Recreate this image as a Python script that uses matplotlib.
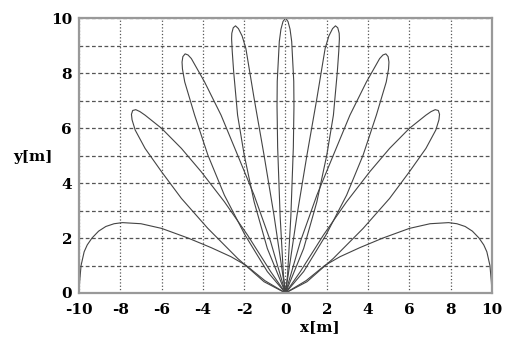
import matplotlib
matplotlib.use("Agg")
import matplotlib.pyplot as plt
import numpy as np

# lobe outlines (right half, mirrored for the left)
lobe90_x = [0, 0.1, 0.26, 0.38, 0.41, 0.4, 0.3, 0.22, 0.12, 0, -0.12, -0.22, -0.3, -0.4, -0.41, -0.38, -0.26, -0.1, 0]
lobe90_y = [0, 0.65, 2.8, 5.3, 6.8, 7.7, 9.15, 9.6, 9.88, 10, 9.88, 9.6, 9.15, 7.7, 6.8, 5.3, 2.8, 0.65, 0]

lobe75_x = [0, 0.56, 1.04, 1.52, 1.92, 2.1, 2.28, 2.42, 2.53, 2.6, 2.61, 2.58, 2.51, 2.32, 2.0, 1.52, 0.88, 0]
lobe75_y = [0, 2.84, 5.02, 7.08, 8.9, 9.35, 9.62, 9.72, 9.65, 9.45, 9.25, 8.8, 8.05, 6.47, 5.02, 3.32, 1.62, 0]

lobe60_x = [0, 0.72, 1.52, 2.32, 3.12, 3.92, 4.56, 4.72, 4.86, 4.97, 5.01, 4.99, 4.88, 4.4, 3.76, 2.96, 1.96, 0.88, 0]
lobe60_y = [0, 1.87, 3.56, 5.02, 6.47, 7.68, 8.53, 8.66, 8.7, 8.6, 8.4, 8.15, 7.68, 6.47, 5.02, 3.56, 2.11, 0.78, 0]

lobe45_x = [0, 0.72, 1.84, 2.96, 4.08, 5.04, 6.0, 6.8, 7.05, 7.25, 7.4, 7.46, 7.43, 7.28, 6.8, 6.0, 5.04, 3.76, 2.32, 1.04, 0]
lobe45_y = [0, 0.78, 2.11, 3.32, 4.41, 5.26, 5.99, 6.47, 6.6, 6.67, 6.64, 6.5, 6.3, 5.93, 5.26, 4.41, 3.44, 2.35, 1.26, 0.41, 0]

lobe0_x = [0, 1.0, 1.9, 2.64, 3.6, 4.72, 6.0, 7.0, 7.9, 8.3, 8.7, 9.05, 9.37, 9.6, 9.75, 9.9, 9.97, 10]
lobe0_y = [0, 0.45, 1.0, 1.32, 1.65, 2.0, 2.35, 2.52, 2.56, 2.52, 2.42, 2.25, 2.0, 1.75, 1.5, 1.0, 0.4, 0]

xticks = [-10, -8, -6, -4, -2, 0, 2, 4, 6, 8, 10]
yticks = [0, 2, 4, 6, 8, 10]

fig = plt.figure(figsize=(5.08, 3.41), dpi=100)
ax = fig.add_axes([0.1555, 0.1408, 0.813, 0.806])

lc = '#444444'
ax.plot(lobe90_x, lobe90_y, color=lc, lw=0.8)
for lx, ly in [(lobe75_x, lobe75_y), (lobe60_x, lobe60_y), (lobe45_x, lobe45_y), (lobe0_x, lobe0_y)]:
    ax.plot(lx, ly, color=lc, lw=0.8)
    ax.plot(-np.array(lx), ly, color=lc, lw=0.8)

ax.set_xlim(-10, 10)
ax.set_ylim(0, 10)
ax.set_xticks(xticks)
ax.set_yticks(yticks)
ax.set_yticks([1, 3, 5, 7, 9], minor=True)
ax.grid(True, axis='x', which='major', color='#555555', linestyle=':', lw=0.9)
ax.grid(True, axis='y', which='both', color='#555555', linestyle=(0, (3, 2)), lw=0.9)
ax.tick_params(which='both', length=0)
ax.tick_params(axis='x', pad=7)
ax.tick_params(axis='y', pad=5)

tick_font = dict(family='DejaVu Serif', weight='bold', size=11)
ax.set_xticklabels([str(t) for t in xticks], **tick_font)
ax.set_yticklabels([str(t) for t in yticks], **tick_font)

for s in ax.spines.values():
    s.set_color('#999999')
    s.set_linewidth(1.6)

fig.text(0.065, 0.54, 'y[m]', ha='center', va='center', **tick_font)
fig.text(0.63, 0.04, 'x[m]', ha='center', va='center', **tick_font)

fig.savefig('out.png', dpi=100)
